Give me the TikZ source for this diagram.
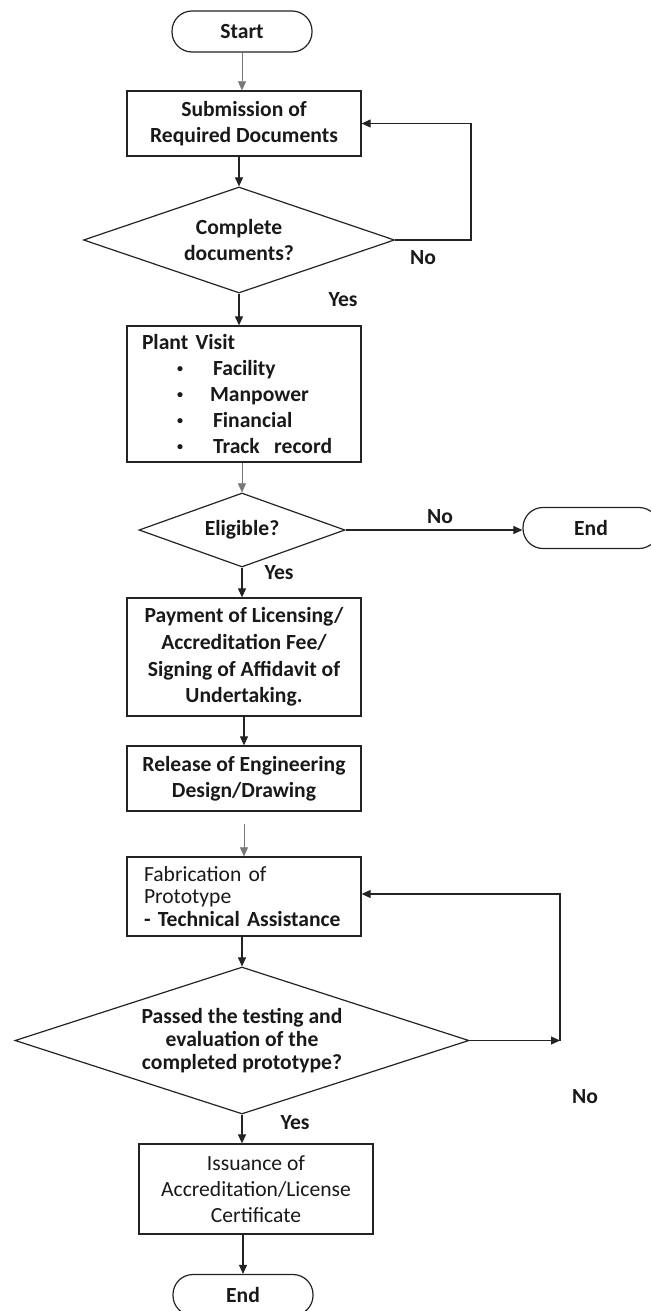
\documentclass[tikz,border=0pt]{standalone}
\usepackage{fontspec}
\setmainfont{Carlito}
\usepackage{tikz}
\usetikzlibrary{positioning,arrows.meta,shapes.geometric}
\definecolor{fcLine}{RGB}{35,35,35}
\definecolor{fcThin}{RGB}{120,120,120}
\definecolor{fcText}{RGB}{25,25,25}
\newcommand{\dotitem}[2]{\hspace*{17.5pt}\makebox[#1][l]{\raisebox{1.3pt}{\fontsize{6}{6}\selectfont •}}#2}
\tikzset{
    base/.style={font=\fontsize{10.8}{13}\selectfont\bfseries, text=fcText, align=center},
    terminal/.style={base, rectangle, rounded corners=10pt, draw=fcLine, line width=0.6pt,
                     minimum width=70pt, minimum height=20.5pt, inner sep=0pt},
    process/.style={base, rectangle, draw=fcLine, line width=0.65pt,
                    minimum width=117pt, inner sep=0pt},
    decision/.style={base, diamond, aspect=3, draw=fcLine, line width=0.6pt, inner sep=0pt},
    flow/.style={-{Triangle[length=4.5pt,width=4pt]}, line width=0.55pt, color=fcLine},
    faint/.style={flow, line width=0.3pt, color=fcThin},
    answer/.style={base, inner sep=0pt}
}

\begin{document}
\begin{tikzpicture}[x=0.5pt, y=-0.5pt]
  \useasboundingbox (0,0) rectangle (651,1311);
  \clip (0,0) rectangle (651,1311);

  % Main column
  \node[terminal] (start) at (242,31.5) {Start};
  \node[process, minimum height=32.5pt] (submit) at (244,123.5) {Submission of\\Required Documents};
  \node[decision, minimum width=155.5pt, minimum height=53pt] (docs) at (239,240) {Complete\\documents?};
  \node[process, minimum height=68pt, align=left, inner xsep=7.5pt, text width=102pt] (visit) at (244,394) {
    Plant Visit\\
    \dotitem{18pt}{Facility}\\
    \dotitem{16.5pt}{Manpower}\\
    \dotitem{18pt}{Financial}\\
    \dotitem{18pt}{Track\ \ record}
  };
  \node[decision, minimum width=103pt, minimum height=37pt] (elig) at (242,530) {Eligible?};
  \node[terminal, minimum width=68pt] (stopA) at (591,528) {End};
  \node[process, minimum height=59pt, font=\fontsize{10.8}{13.3}\selectfont\bfseries] (pay) at (244,657) {
    Payment of Licensing/\\Accreditation Fee/\\Signing of Affidavit of\\Undertaking.
  };
  \node[process, minimum height=32.5pt] (release) at (244,778.5) {Release of Engineering\\Design/Drawing};
  \node[process, minimum height=39.5pt, align=left, inner xsep=8.5pt, text width=100pt,
        font=\fontsize{10.8}{11.3}\selectfont] (fab) at (244,896.5) {
    Fabrication of\\Prototype\\\bfseries - Technical Assistance
  };
  \node[decision, minimum width=227pt, minimum height=73.5pt,
        font=\fontsize{10.8}{11.3}\selectfont\bfseries] (passed) at (242,1040.5) {
    Passed the testing and\\evaluation of the\\completed prototype?
  };
  \node[process, minimum height=45pt, font=\fontsize{10.8}{13}\selectfont] (issue) at (256,1189) {
    Issuance of\\Accreditation/License\\Certificate
  };
  \node[terminal] (stopB) at (243,1295) {End};

  % Answers
  \node[answer] (noA) at (423,258) {No};
  \node[answer] (yesA) at (343,300) {Yes};
  \node[answer] (noB) at (440,517) {No};
  \node[answer] (yesB) at (279,573) {Yes};
  \node[answer] (noC) at (585,1097) {No};
  \node[answer] (yesC) at (295,1123) {Yes};

  % Connectors
  \draw[faint] (start) -- (start |- submit.north);
  \draw[flow] (docs.north |- submit.south) -- (docs.north);
  \draw[flow] (docs.south) -- (docs.south |- visit.north);
  \draw[faint] (elig.north |- visit.south) -- (elig.north);
  \draw[flow] (elig.south) -- (elig.south |- pay.north);
  \draw[flow] (elig.east) -- (stopA.west |- elig.east);
  \draw[flow] (pay) -- (release);
  \draw[faint, shorten <=6pt] (release) -- (fab);
  \draw[flow] (passed.north |- fab.south) -- (passed.north);
  \draw[flow] (passed.south) -- (passed.south |- issue.north);
  \draw[flow] (stopB.north |- issue.south) -- (stopB);

  % No loops
  \coordinate (backA) at (471,123.5);
  \draw[flow] (docs.east) -| (backA) -- (submit.east);
  \coordinate (backB) at (560,1040.5);
  \coordinate (backC) at (560,894);
  \draw[flow] (passed.east) -- (backB);
  \draw[flow] (backB) -- (backC) -- (fab.east |- backC);
\end{tikzpicture}
\end{document}
